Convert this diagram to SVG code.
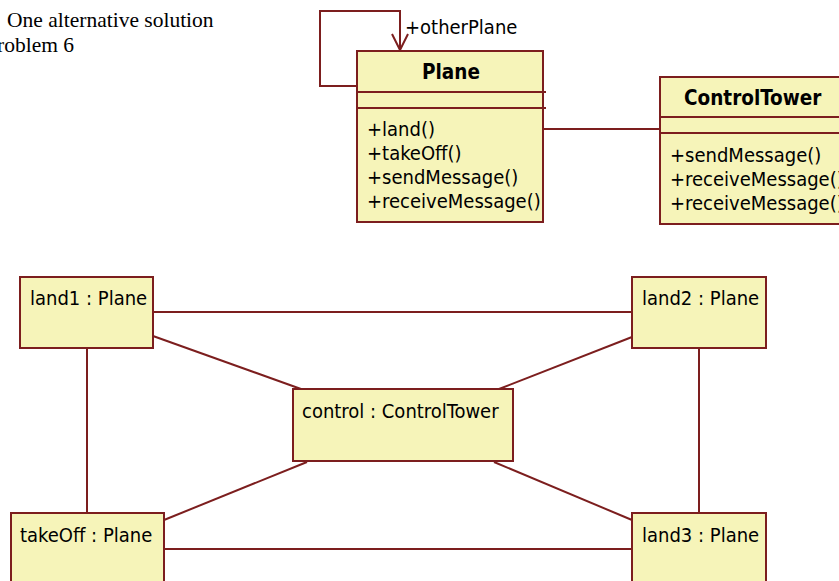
<svg xmlns="http://www.w3.org/2000/svg" width="839" height="581" viewBox="0 0 839 581">
<style>
.box{fill:#f6f4b9;stroke:#7c1e1e;stroke-width:2}
.ln{stroke:#7c1e1e;stroke-width:2;fill:none}
.t{font-family:"DejaVu Sans Condensed","DejaVu Sans",sans-serif;font-size:20px;fill:#000}
.b{font-weight:bold;font-size:20.5px}
.cap{font-family:"Liberation Serif",serif;font-size:21.5px;fill:#000}
</style>
<text class="cap" x="7" y="27">One alternative solution</text>
<text class="cap" x="-3" y="52">roblem 6</text>
<g id="connectors">
<path class="ln" d="M357,86 H320 V11 H400 V50"/>
<path class="ln" d="M392,34 L400,50 L408,34"/>
<line class="ln" x1="543" y1="129" x2="660" y2="129"/>
<line class="ln" x1="153" y1="312" x2="632" y2="312"/>
<line class="ln" x1="153" y1="336" x2="301" y2="389"/>
<line class="ln" x1="632" y1="337" x2="499" y2="389"/>
<line class="ln" x1="87" y1="348" x2="87" y2="513"/>
<line class="ln" x1="699" y1="348" x2="699" y2="513"/>
<line class="ln" x1="307" y1="462" x2="164" y2="520"/>
<line class="ln" x1="494" y1="462" x2="632" y2="520"/>
<line class="ln" x1="164" y1="549" x2="632" y2="549"/>
</g>
<text class="t" x="405" y="34">+otherPlane</text>
<g id="Plane">
<rect class="box" x="357" y="51" width="186" height="171"/>
<line class="ln" x1="357" y1="92" x2="546" y2="92"/>
<line class="ln" x1="357" y1="108" x2="546" y2="108"/>
<text class="t b" x="451" y="79" text-anchor="middle">Plane</text>
<text class="t" x="367" y="136">+land()</text>
<text class="t" x="367" y="160">+takeOff()</text>
<text class="t" x="367" y="184">+sendMessage()</text>
<text class="t" x="367" y="208">+receiveMessage()</text>
</g>
<g id="ControlTower">
<rect class="box" x="660" y="77" width="190" height="147"/>
<line class="ln" x1="660" y1="117" x2="839" y2="117"/>
<line class="ln" x1="660" y1="133" x2="839" y2="133"/>
<text class="t b" x="684" y="105">ControlTower</text>
<text class="t" x="670" y="162">+sendMessage()</text>
<text class="t" x="670" y="186">+receiveMessage()</text>
<text class="t" x="670" y="210">+receiveMessage()</text>
</g>
<g id="land1">
<rect class="box" x="20" y="277" width="133" height="71"/>
<text class="t" x="30" y="305">land1 : Plane</text>
</g>
<g id="land2">
<rect class="box" x="632" y="277" width="134" height="71"/>
<text class="t" x="642" y="305">land2 : Plane</text>
</g>
<g id="control">
<rect class="box" x="293" y="389" width="220" height="72"/>
<text class="t" x="302" y="418">control : ControlTower</text>
</g>
<g id="takeOff">
<rect class="box" x="11" y="513" width="153" height="80"/>
<text class="t" x="20" y="542">takeOff : Plane</text>
</g>
<g id="land3">
<rect class="box" x="632" y="513" width="134" height="80"/>
<text class="t" x="642" y="542">land3 : Plane</text>
</g>
</svg>
